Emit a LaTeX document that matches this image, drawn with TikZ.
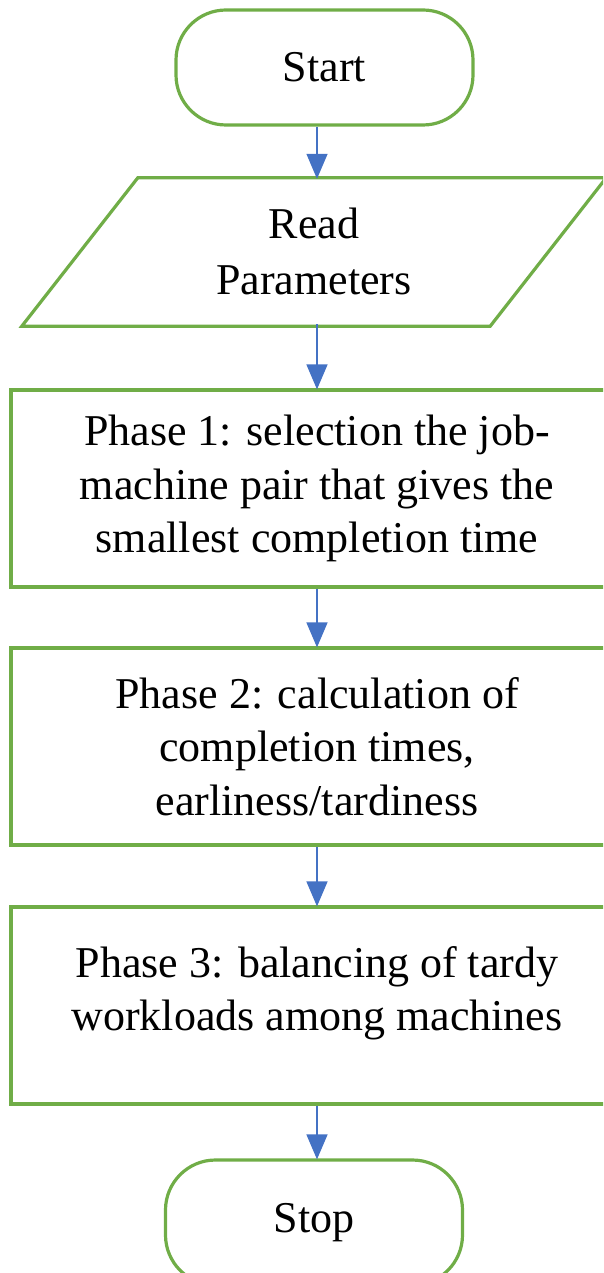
\documentclass[tikz,border=0pt]{standalone}
\usepackage{fontspec}
\setmainfont{Liberation Serif}
\usetikzlibrary{arrows.meta,calc}

\definecolor{boxgreen}{RGB}{112,173,71}
\definecolor{flowblue}{RGB}{68,114,196}

\tikzset{
	term/.style={draw=boxgreen, line width=3.2pt, rounded corners=50pt,
		minimum width=297pt, minimum height=115pt, font=\fontsize{44}{53}\selectfont},
	proc/.style={draw=boxgreen, line width=3.2pt, minimum width=612pt,
		minimum height=197pt, align=center, font=\fontsize{44}{53.5}\selectfont},
	txt/.style={align=center, font=\fontsize{44}{53.5}\selectfont},
	flow/.style={draw=flowblue, line width=1.5pt, -{Triangle[width=21pt,length=25pt]}, shorten >=-1pt}
}

\begin{document}
\begin{tikzpicture}[x=1pt,y=-1pt]
	\useasboundingbox (0,0) rectangle (603,1273);
	\clip (0,0) rectangle (603,1273);

	\node[term] (start) at (324.5,67.5) {Start};
	\node[txt, font=\fontsize{44}{56}\selectfont, minimum width=584pt, minimum height=146pt] (read) at (314,251) {Read\\Parameters};
	\draw[boxgreen, line width=3.2pt] ($(read.south west)+(0,2)$) -- ($(read.north west)+(116,0)$)
		-- (read.north east) -- ($(read.south east)+(-116,2)$) -- cycle;
	\node[proc] (p1) at (317,488.5) {Phase 1: selection the job-\\machine pair that gives the\\smallest completion time};
	\node[proc] (p2) at (317,746.5) {Phase 2: calculation of\\completion times,\\earliness/tardiness};
	\node[proc] (p3) at (317,1005.5) {};
	\node[txt] (p3text) at (317,993) {Phase 3: balancing of tardy\\workloads among machines};
	\node[term, minimum height=125pt] (stop) at (314,1222.5) {Stop};

	\draw[flow] (start.south -| p1) -- (read.north -| p1);
	\draw[flow] (read.south -| p1) -- (p1.north);
	\draw[flow] (p1.south) -- (p2.north);
	\draw[flow] (p2.south) -- (p3.north);
	\draw[flow] (p3.south) -- (p3.south |- stop.north);
\end{tikzpicture}
\end{document}
